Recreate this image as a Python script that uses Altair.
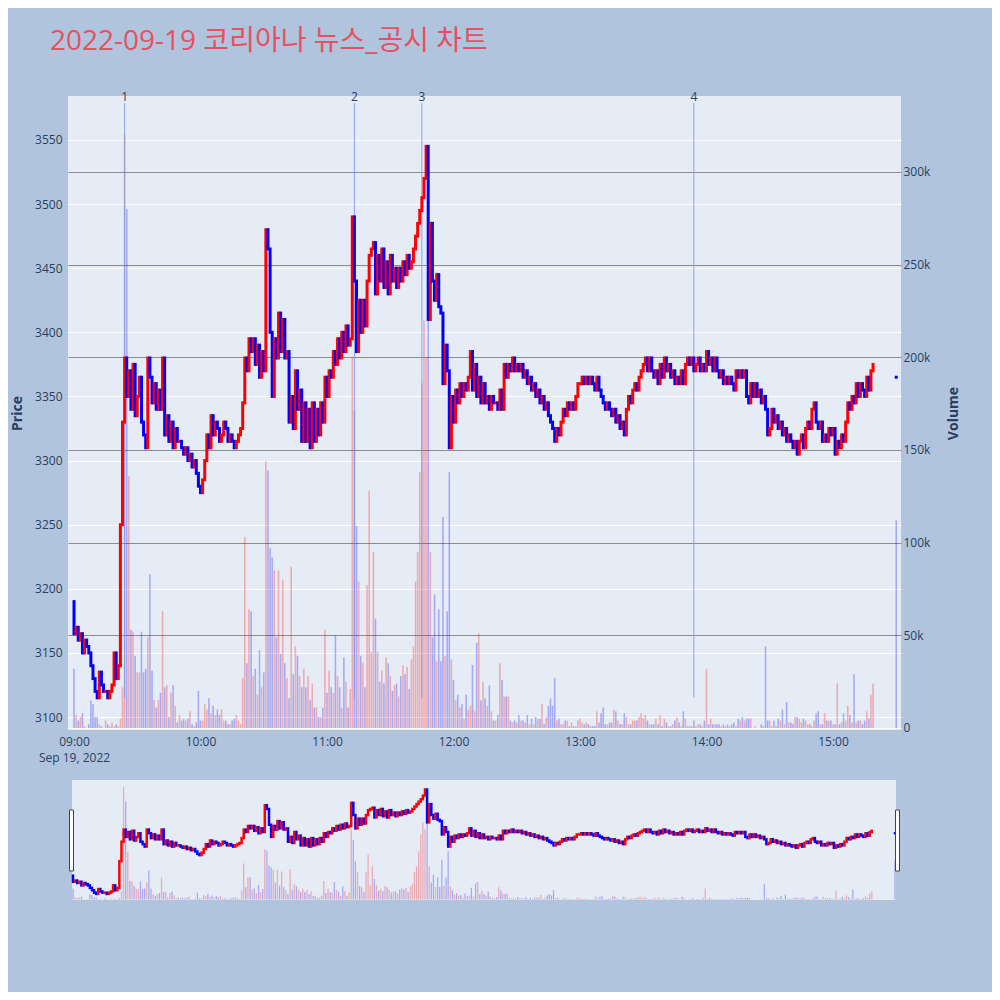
import altair as alt
import pandas as pd

# ---------------- data ----------------
title_text = "2022-09-19 코리아나 뉴스_공시 차트"
date_label = "Sep 19, 2022"
hour_labels = ["09:00", "10:00", "11:00", "12:00", "13:00", "14:00", "15:00"]
hour_ticks = [0, 60, 120, 180, 240, 300, 360]          # minutes after 09:00
price_ticks = [3100, 3150, 3200, 3250, 3300, 3350, 3400, 3450, 3500, 3550]
volume_ticks = [0, 50, 100, 150, 200, 250, 300]         # thousands

first_open = 3190
closes = [
    3165, 3170, 3160, 3165, 3150, 3160, 3155, 3150, 3140, 3130,
    3120, 3115, 3135, 3125, 3120, 3120, 3115, 3120, 3125, 3150,
    3130, 3140, 3250, 3330, 3380, 3350, 3370, 3340, 3375, 3335,
    3350, 3365, 3330, 3320, 3310, 3380, 3365, 3345, 3360, 3340,
    3355, 3340, 3380, 3320, 3335, 3315, 3330, 3310, 3325, 3315,
    3315, 3310, 3305, 3310, 3300, 3305, 3295, 3300, 3290, 3280,
    3275, 3285, 3300, 3320, 3310, 3335, 3320, 3330, 3325, 3315,
    3320, 3330, 3325, 3315, 3320, 3315, 3310, 3315, 3320, 3325,
    3345, 3380, 3370, 3395, 3385, 3395, 3375, 3390, 3365, 3385,
    3370, 3480, 3465, 3400, 3350, 3395, 3380, 3415, 3385, 3410,
    3380, 3385, 3330, 3350, 3325, 3370, 3340, 3355, 3315, 3345,
    3315, 3340, 3310, 3345, 3315, 3340, 3320, 3345, 3330, 3365,
    3350, 3370, 3365, 3385, 3375, 3395, 3380, 3400, 3385, 3405,
    3390, 3395, 3490, 3440, 3385, 3425, 3400, 3425, 3405, 3440,
    3460, 3465, 3470, 3430, 3460, 3440, 3465, 3435, 3455, 3430,
    3460, 3440, 3450, 3435, 3450, 3440, 3455, 3445, 3460, 3450,
    3455, 3465, 3475, 3485, 3495, 3505, 3520, 3545, 3410, 3485,
    3440, 3425, 3445, 3420, 3415, 3360, 3390, 3370, 3310, 3350,
    3330, 3355, 3345, 3360, 3350, 3360, 3355, 3365, 3385, 3355,
    3375, 3350, 3365, 3345, 3360, 3345, 3350, 3340, 3350, 3345,
    3345, 3340, 3355, 3340, 3375, 3365, 3375, 3370, 3380, 3370,
    3375, 3370, 3375, 3365, 3370, 3360, 3365, 3355, 3360, 3350,
    3355, 3345, 3350, 3340, 3345, 3335, 3330, 3325, 3315, 3325,
    3320, 3330, 3340, 3335, 3345, 3340, 3345, 3340, 3350, 3360,
    3360, 3365, 3360, 3365, 3360, 3365, 3360, 3355, 3365, 3355,
    3350, 3345, 3340, 3345, 3340, 3335, 3340, 3330, 3335, 3325,
    3330, 3320, 3340, 3350, 3345, 3355, 3360, 3355, 3365, 3370,
    3375, 3380, 3370, 3380, 3370, 3365, 3370, 3360, 3375, 3365,
    3380, 3370, 3375, 3365, 3370, 3360, 3365, 3360, 3370, 3360,
    3375, 3380, 3375, 3380, 3370, 3375, 3380, 3370, 3375, 3370,
    3385, 3375, 3380, 3370, 3380, 3370, 3365, 3370, 3360, 3365,
    3360, 3365, 3360, 3355, 3370, 3365, 3370, 3365, 3370, 3350,
    3345, 3360, 3350, 3360, 3350, 3355, 3345, 3350, 3340, 3320,
    3325, 3340, 3330, 3335, 3325, 3330, 3320, 3325, 3315, 3320,
    3315, 3310, 3315, 3305, 3315, 3320, 3310, 3325, 3330, 3325,
    3340, 3345, 3330, 3325, 3330, 3315, 3320, 3315, 3325, 3320,
    3325, 3305, 3315, 3310, 3320, 3315, 3330, 3345, 3340, 3350,
    3345, 3360, 3350, 3360, 3355, 3350, 3365, 3355, 3370, 3375,
]
volume_k = [
    32, 7, 4, 6, 8, 1, 0, 2, 15, 13,
    6, 6, 2, 1, 0, 4, 2, 1, 3, 1,
    2, 1, 5, 22, 320, 280, 136, 53, 52, 39,
    30, 30, 52, 30, 32, 49, 83, 31, 15, 11,
    15, 19, 63, 22, 23, 6, 19, 23, 12, 3,
    7, 4, 5, 4, 5, 9, 2, 1, 3, 20,
    4, 4, 13, 10, 16, 8, 12, 7, 10, 7,
    10, 4, 4, 2, 2, 4, 5, 7, 4, 2,
    27, 103, 35, 64, 63, 28, 32, 18, 42, 22,
    30, 144, 139, 97, 92, 85, 49, 85, 40, 80,
    35, 27, 16, 87, 29, 44, 39, 28, 22, 32,
    22, 28, 15, 24, 11, 11, 6, 6, 11, 53,
    19, 31, 22, 19, 50, 28, 22, 11, 38, 25,
    11, 21, 200, 171, 109, 79, 39, 35, 22, 77,
    128, 41, 95, 59, 41, 25, 31, 24, 38, 35,
    28, 20, 23, 24, 17, 28, 34, 29, 33, 21,
    37, 44, 79, 95, 138, 186, 220, 200, 240, 95,
    49, 72, 36, 64, 36, 114, 39, 63, 138, 37,
    26, 15, 18, 11, 13, 5, 18, 10, 12, 34,
    9, 46, 51, 15, 25, 16, 12, 23, 9, 4,
    4, 7, 35, 26, 17, 17, 17, 4, 3, 4,
    3, 7, 4, 4, 3, 7, 2, 5, 2, 6,
    5, 5, 13, 2, 6, 12, 16, 12, 27, 4,
    5, 2, 2, 4, 4, 1, 3, 1, 1, 4,
    5, 3, 2, 3, 2, 1, 1, 1, 9, 3,
    8, 11, 2, 2, 3, 3, 10, 9, 4, 2,
    2, 8, 6, 2, 2, 4, 4, 4, 6, 8,
    5, 7, 4, 2, 2, 2, 5, 2, 7, 1,
    5, 3, 1, 1, 2, 4, 6, 3, 1, 9,
    5, 1, 1, 1, 4, 1, 2, 2, 1, 4,
    32, 2, 5, 2, 2, 2, 2, 1, 2, 1,
    2, 1, 2, 3, 1, 5, 4, 6, 4, 5,
    5, 5, 0, 1, 0, 0, 2, 1, 44, 4,
    4, 1, 4, 1, 5, 4, 10, 2, 14, 3,
    3, 2, 6, 6, 5, 3, 5, 4, 2, 2,
    1, 4, 8, 9, 2, 2, 8, 4, 4, 4,
    2, 2, 24, 2, 3, 8, 4, 12, 7, 3,
    29, 3, 4, 4, 2, 4, 9, 5, 18, 24,
]
auction_minute = 390          # 15:30 closing auction
auction_price = 3365
auction_volume_k = 112

news_minutes = [24, 133, 165, 294]
news_labels = ["1", "2", "3", "4"]

# ---------------- tables ----------------
opens = [first_open] + closes[:-1]
rows = []
for i, (o, c, v) in enumerate(zip(opens, closes, volume_k)):
    rows.append({"minute": i, "open": o, "close": c, "volume": v,
                 "dir": "up" if c >= o else "down"})
rows.append({"minute": auction_minute, "open": auction_price, "close": auction_price,
             "volume": auction_volume_k,
             "dir": "up" if auction_price >= closes[-1] else "down"})
df = pd.DataFrame(rows)
news = pd.DataFrame({"minute": news_minutes, "label": news_labels,
                     "low": [min(closes)] * len(news_minutes)})
dummy = pd.DataFrame({"a": [0]})

# ---------------- styling ----------------
FONT = "Open Sans, Noto Sans CJK KR"
TXT = "#2a3f5f"
W, H = 833, 634
X_DOMAIN = [-2.85, 392.26]
PRICE_DOMAIN = [3089.9, 3584.3]
VOL_DOMAIN = [-1.08, 341]

color = alt.Color("dir:N", scale=alt.Scale(domain=["up", "down"], range=["#FF0000", "#0000FF"]),
                  legend=None)
xs = alt.Scale(domain=X_DOMAIN, nice=False, zero=False)
ps = alt.Scale(domain=PRICE_DOMAIN, nice=False, zero=False)
vs = alt.Scale(domain=VOL_DOMAIN, nice=False, zero=False)
sxs = alt.Scale(domain=[0, 390], range=[5, 827], nice=False, zero=False)
sps = alt.Scale(domain=PRICE_DOMAIN, range=[804, 684], nice=False, zero=False)
svs = alt.Scale(domain=VOL_DOMAIN, range=[804, 684], nice=False, zero=False)

x_axis = alt.Axis(values=hour_ticks,
                  labelExpr=f"datum.value == 0 ? ['{hour_labels[0]}', '{date_label}'] : {hour_labels}[round(datum.value / 60)]",
                  ticks=False, domain=False, grid=False, labelPadding=6, labelFontSize=12,
                  labelColor=TXT, labelFont=FONT, labelLineHeight=16, title=None)
price_axis = alt.Axis(values=price_ticks, format="d", orient="left", ticks=False, domain=False,
                      grid=True, gridColor="#ffffff", gridWidth=1, labelPadding=6,
                      labelFontSize=12, labelColor=TXT, labelFont=FONT, title="Price",
                      titleFont=FONT, titleFontSize=14, titleFontWeight="bold", titleColor=TXT,
                      titleAngle=270, titleBaseline="middle", titleX=-51, titleY=H / 2)
vol_axis = alt.Axis(values=volume_ticks, orient="right", ticks=False, domain=False, grid=True,
                    gridColor={"condition": {"test": "datum.value === 0", "value": "#ffffff"},
                               "value": "#8c8c8c"},
                    gridWidth=1.2,
                    labelExpr="datum.value == 0 ? '0' : datum.value + 'k'",
                    labelPadding=2, labelFontSize=12, labelColor=TXT, labelFont=FONT,
                    title="Volume", titleFont=FONT, titleFontSize=14, titleFontWeight="bold",
                    titleColor=TXT, titleAngle=270, titleBaseline="middle", titleX=52,
                    titleY=H / 2)

# ---------------- main panel ----------------
vol_main = alt.Chart(df).mark_rule(strokeWidth=1.6, opacity=0.28).encode(
    x=alt.X("minute:Q", scale=xs, axis=x_axis),
    y=alt.Y("volume:Q", scale=vs, axis=vol_axis),
    y2=alt.datum(0),
    color=color,
)
news_lines = alt.Chart(news).mark_rule(strokeWidth=1, color="#7f95e6", opacity=0.85).encode(
    x=alt.X("minute:Q", scale=xs, axis=None),
    y=alt.Y("low:Q", scale=ps, axis=None),
    y2=alt.value(7),
)
candles = alt.Chart(df).mark_rule(strokeWidth=3, strokeCap="square").encode(
    x=alt.X("minute:Q", scale=xs, axis=None),
    y=alt.Y("open:Q", scale=ps, axis=price_axis),
    y2="close:Q",
    color=color,
)
news_text = alt.Chart(news).mark_text(baseline="middle", fontSize=12, color=TXT, font=FONT).encode(
    x=alt.X("minute:Q", scale=xs, axis=None),
    y=alt.value(1),
    text="label:N",
)

# ---------------- range slider ----------------
slider_bg = alt.Chart(dummy).mark_rect(color="#E5ECF6").encode(
    x=alt.value(4), x2=alt.value(828), y=alt.value(684), y2=alt.value(804))
vol_slider = alt.Chart(df).mark_rule(strokeWidth=1.3, opacity=0.28).encode(
    x=alt.X("minute:Q", scale=sxs, axis=None),
    y=alt.Y("volume:Q", scale=svs, axis=None),
    y2=alt.datum(0),
    color=color,
)
candle_slider = alt.Chart(df).mark_rule(strokeWidth=2.5, strokeCap="square").encode(
    x=alt.X("minute:Q", scale=sxs, axis=None),
    y=alt.Y("open:Q", scale=sps, axis=None),
    y2="close:Q",
    color=color,
)
handle_l = alt.Chart(dummy).mark_rect(fill="white", stroke="#444444", strokeWidth=1).encode(
    x=alt.value(1.5), x2=alt.value(5.5), y=alt.value(714), y2=alt.value(775))
handle_r = alt.Chart(dummy).mark_rect(fill="white", stroke="#444444", strokeWidth=1).encode(
    x=alt.value(827.5), x2=alt.value(831.5), y=alt.value(714), y2=alt.value(775))

chart = alt.layer(
    vol_main, news_lines, candles, news_text,
    slider_bg, vol_slider, candle_slider, handle_l, handle_r,
).resolve_scale(
    x="independent", y="independent", color="shared"
).properties(
    width=W, height=H,
    padding={"left": 60, "top": 88, "right": 91, "bottom": 262},
    autosize=alt.AutoSizeParams(type="none"),
    title=alt.Title(title_text, anchor="start", frame="group", dx=-18, offset=35,
                    fontSize=28, fontWeight="normal", color="#E8505F", font=FONT),
).configure(
    background="#B0C4DE"
).configure_view(
    fill="#E5ECF6", stroke=None
)

chart.save("out.html", embed_options={"renderer": "svg", "actions": False})
